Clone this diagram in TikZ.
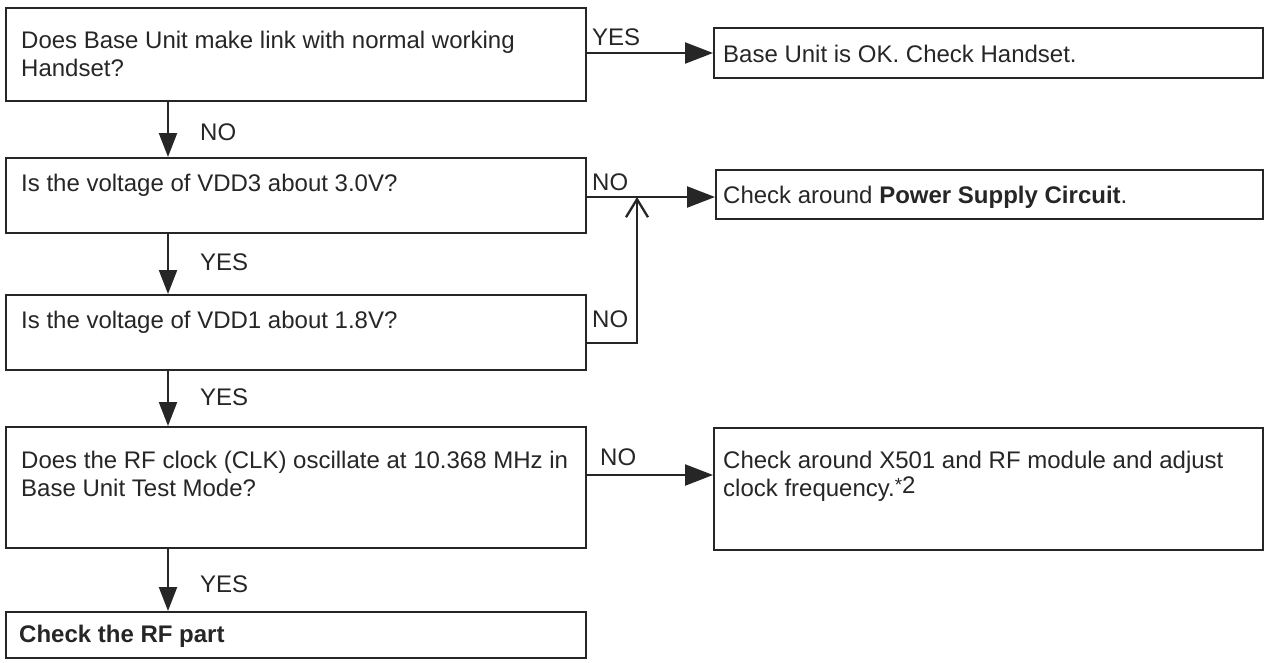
\documentclass[tikz,border=0pt]{standalone}
\usepackage{fontspec}
\setmainfont{Liberation Sans}
\usetikzlibrary{arrows.meta}
\tikzset{
  box/.style={draw=black!85, line width=2.3pt, rectangle, inner sep=0pt, anchor=north west},
  txt/.style={anchor=north west, inner sep=0pt, align=left, text=black!85, font=\fontsize{24}{28.5}\selectfont},
  lbl/.style={anchor=base west, inner sep=0pt, text=black!85, font=\fontsize{24}{28.5}\selectfont},
  conn/.style={draw=black!85, line width=2.3pt},
  darr/.style={conn, -{Triangle[length=24pt,width=18pt]}},
  harr/.style={conn, -{Triangle[length=28pt,width=21pt]}},
  barb/.style={conn, -{Straight Barb[length=18pt,width=22pt,line width=2.3pt]}},
}
\begin{document}
\begin{tikzpicture}[x=1pt,y=-1pt]
\useasboundingbox (0,0) rectangle (1268,662);
% boxes
\node[box, minimum width=580pt, minimum height=93pt] (q1) at (5,7) {};
\node[box, minimum width=580pt, minimum height=75pt] (q2) at (5,157) {};
\node[box, minimum width=580pt, minimum height=75pt] (q3) at (5,294) {};
\node[box, minimum width=580pt, minimum height=121pt] (q4) at (5,426) {};
\node[box, minimum width=580pt, minimum height=46pt] (q5) at (5,611) {};
\node[box, minimum width=549pt, minimum height=50pt] (r1) at (713,27) {};
\node[box, minimum width=547pt, minimum height=49pt] (r2) at (715,169) {};
\node[box, minimum width=549pt, minimum height=122pt] (r4) at (713,427) {};
% texts
\node[txt] (q1t) at (21,28) {\strut Does Base Unit make link with normal working\\Handset?};
\node[txt] (q2t) at (21,171) {\strut Is the voltage of VDD3 about 3.0V?};
\node[txt] (q3t) at (21,308) {\strut Is the voltage of VDD1 about 1.8V?};
\node[txt] (q4t) at (21,448) {\strut Does the RF clock (CLK) oscillate at 10.368 MHz in\\Base Unit Test Mode?};
\node[txt] (q5t) at (19,622) {\strut\textbf{Check the RF part}};
\node[txt] (r1t) at (723,42) {\strut Base Unit is OK. Check Handset.};
\node[txt] (r2t) at (723,183) {\strut Check around \textbf{Power Supply Circuit}.};
\node[txt] (r4t) at (723,448) {\strut Check around X501 and RF module and adjust\\clock frequency.\raisebox{5pt}{\fontsize{19}{19}\selectfont *}\raisebox{3pt}{2}};
% labels
\node[lbl] (l1) at (592,45) {YES};
\node[lbl] (l2) at (200,140) {NO};
\node[lbl] (l3) at (592,190) {NO};
\node[lbl] (l4) at (200,270) {YES};
\node[lbl] (l5) at (592,327) {NO};
\node[lbl] (l6) at (200,405) {YES};
\node[lbl] (l7) at (600,465) {NO};
\node[lbl] (l8) at (200,592) {YES};
% coordinates
\coordinate (j) at (637,197);
\coordinate (q2o) at (585,197);
\coordinate (q3o) at (585,343);
\coordinate (q4o) at (585,475);
\coordinate (q1o) at (585,53);
% connectors
\draw[harr] (q1o) -- (q1o -| r1.west);
\draw[harr] (q2o) -- (q2o -| r2.west);
\draw[barb] (q3o) -| (j);
\draw[harr] (q4o) -- (q4o -| r4.west);
\draw[darr] (q1.south -| 168,0) -- (q2.north -| 168,0);
\draw[darr] (q2.south -| 168,0) -- (q3.north -| 168,0);
\draw[darr] (q3.south -| 168,0) -- (q4.north -| 168,0);
\draw[darr] (q4.south -| 168,0) -- (q5.north -| 168,0);
\end{tikzpicture}
\end{document}
